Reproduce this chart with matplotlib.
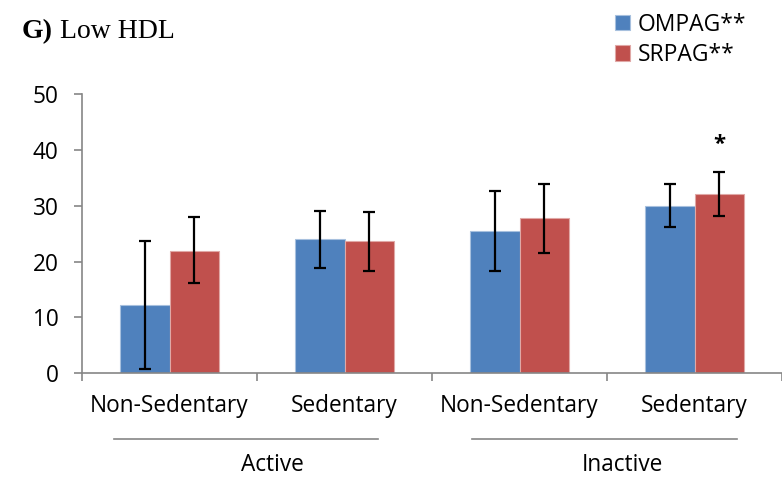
import numpy as np
import matplotlib.pyplot as plt
from matplotlib.transforms import blended_transform_factory

# values
categories = ['Non-Sedentary', 'Sedentary', 'Non-Sedentary', 'Sedentary']
groups = ['Active', 'Inactive']
ompag = [12.2, 24.0, 25.5, 30.0]
ompag_lo = [0.8, 18.9, 18.3, 26.2]
ompag_hi = [23.6, 29.1, 32.7, 33.8]
srpag = [21.9, 23.6, 27.8, 32.1]
srpag_lo = [16.1, 18.3, 21.6, 28.2]
srpag_hi = [27.9, 28.8, 33.9, 36.0]

blue = '#4F81BD'
red = '#C0504D'
grey = '#868686'
fs = 16.3

plt.rcParams['font.family'] = ['Open Sans', 'DejaVu Sans']

fig = plt.figure(figsize=(7.82, 4.78), dpi=100)
ax = fig.add_axes([82/782, 1 - 373.3/478, 1 - 82/782, (373.3 - 94)/478])

x = np.arange(len(categories)) + 0.5
w = 0.284
ompag = np.array(ompag)
srpag = np.array(srpag)
err_o = [ompag - np.array(ompag_lo), np.array(ompag_hi) - ompag]
err_s = [srpag - np.array(srpag_lo), np.array(srpag_hi) - srpag]

ax.bar(x - w/2, ompag, w, color=blue, edgecolor='#A7C0DE', linewidth=0.8, label='OMPAG**', zorder=2)
ax.bar(x + w/2, srpag, w, color=red, edgecolor='#E0A8A6', linewidth=0.8, label='SRPAG**', zorder=2)
ax.errorbar(x - w/2, ompag, yerr=err_o, fmt='none', ecolor='black', elinewidth=1.6, capsize=4.5, capthick=1.6, zorder=3)
ax.errorbar(x + w/2, srpag, yerr=err_s, fmt='none', ecolor='black', elinewidth=1.6, capsize=4.5, capthick=1.6, zorder=3)

ax.text(x[3] + w/2, 40.9, '*', ha='center', va='center', fontsize=16, fontweight='bold')

ax.set_ylim(0, 50)
ax.set_xlim(0, (782 - 82) / 176)
ax.set_yticks(range(0, 51, 10))
ax.set_xticks(range(0, 5))
ax.set_xticklabels([])
ax.set_xticks(x, minor=True)
ax.set_xticklabels(categories, minor=True)
ax.tick_params(axis='x', which='minor', length=0, pad=15, labelsize=fs)
ax.tick_params(axis='x', which='major', length=6, color=grey, width=1.2)
ax.tick_params(axis='y', length=6, color=grey, width=1.2, pad=11, labelsize=fs)
for s in ['top', 'right']:
    ax.spines[s].set_visible(False)
for s in ['left', 'bottom']:
    ax.spines[s].set_color(grey)
    ax.spines[s].set_linewidth(1.2)

# group labels under the category labels
trans = blended_transform_factory(ax.transData, ax.transAxes)
line_y = -(439 - 373.3) / (373.3 - 94)
label_y = -(465 - 373.3) / (373.3 - 94)
spans = [(0.18, 1.69, 1.09), (2.23, 3.74, 3.09)]
for g, (a, b, c) in zip(groups, spans):
    ax.plot([a, b], [line_y, line_y], color=grey, lw=1.2, transform=trans, clip_on=False)
    ax.text(c, label_y, g, ha='center', va='center', fontsize=fs, transform=trans)

t1 = fig.text(22/782, 1 - 32/478, 'G)', fontsize=20, fontweight='bold', fontfamily='Liberation Serif', va='center')
fig.canvas.draw()
bb = t1.get_window_extent()
fig.text((bb.x1 + 7)/782, 1 - 32/478, 'Low HDL', fontsize=20, fontfamily='Liberation Serif', va='center')

ax.legend(loc='upper left', bbox_to_anchor=(610/782, 1 - 8/478), bbox_transform=fig.transFigure,
          frameon=False, fontsize=16.5, handlelength=0.66, handleheight=0.66, handletextpad=0.35,
          labelspacing=0.28, borderaxespad=0, borderpad=0.2)

fig.savefig('out.png', dpi=100)
